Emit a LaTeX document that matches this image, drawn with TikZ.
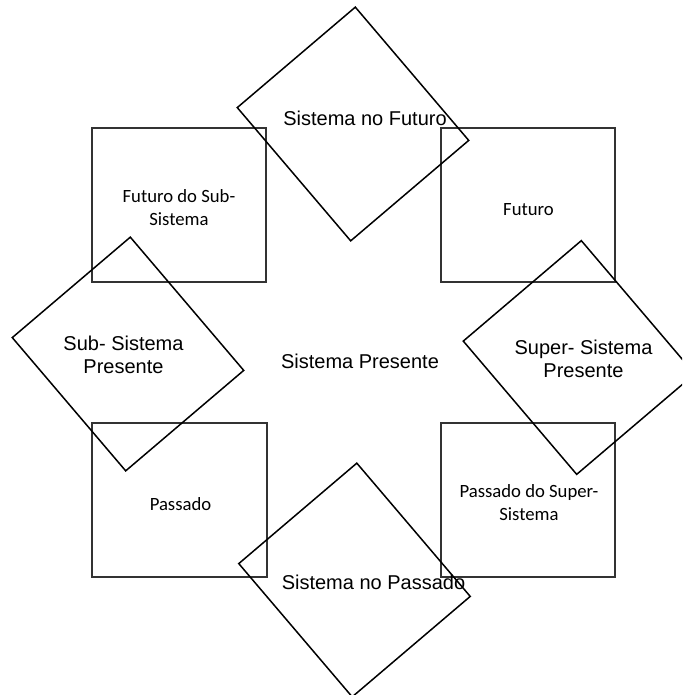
\documentclass[tikz,border=0pt]{standalone}
\usepackage{fontspec}
\setmainfont{Liberation Sans}
\newfontfamily\calibfont{Carlito}
\begin{document}
\begin{tikzpicture}[x=1pt,y=-1pt,
  boxstyle/.style={draw=black!80,line width=1.6pt},
  turned/.style={draw=black,line width=1.5pt,rectangle,inner sep=0pt,
    minimum width=175pt,minimum height=155pt,rotate=-49.6},
  bigtext/.style={font=\fontsize{20}{23}\selectfont,inner sep=0pt,align=center,anchor=base},
  smalltext/.style={font=\calibfont\fontsize{18.7}{23}\selectfont,inner sep=0pt,align=center,anchor=base}]
\useasboundingbox (0,0) rectangle (682,695);
\clip (0,0) rectangle (682,695);

% four upright boxes
\draw[boxstyle] (92,128) rectangle (266,282);
\draw[boxstyle] (441,128) rectangle (615,282);
\draw[boxstyle] (92,423) rectangle (267,577);
\draw[boxstyle] (441,423) rectangle (615,577);

% four turned boxes
\node[turned] (top) at (353,124) {};
\node[turned] (left) at (128,354) {};
\node[turned] (right) at (579,357.5) {};
\node[turned] (bottom) at (354.5,580) {};

% labels
\node[bigtext] (tfuture) at (365,126) {Sistema no Futuro};
\node[bigtext] (tcenter) at (360,368) {Sistema Presente};
\node[bigtext] (tsub) at (123.5,373) {Sub- Sistema\\Presente};
\node[bigtext] (tsuper) at (583.5,377) {Super- Sistema\\Presente};
\node[bigtext] (tpast) at (373.5,589) {Sistema no Passado};

\node[smalltext] (tsubfut) at (179,225) {Futuro do Sub-\\Sistema};
\node[smalltext] (tfut) at (528.5,215) {Futuro};
\node[smalltext] (tpas) at (180.5,510) {Passado};
\node[smalltext] (tsuppas) at (529,520) {Passado do Super-\\Sistema};
\end{tikzpicture}
\end{document}
